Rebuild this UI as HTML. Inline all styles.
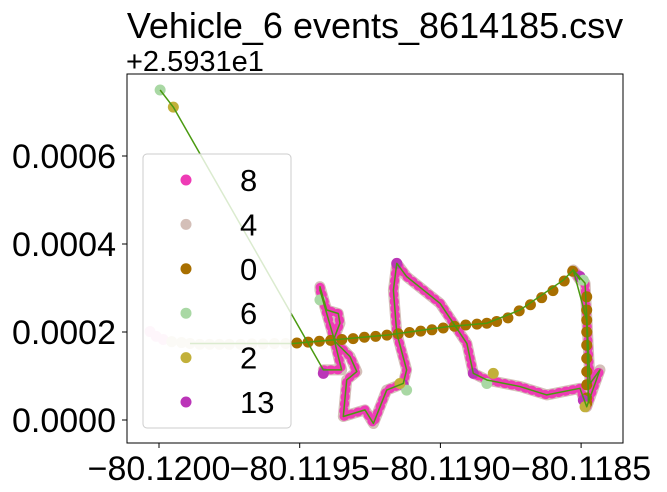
<!DOCTYPE html>
<html><head><meta charset="utf-8"><style>
body{margin:0;background:#fff;}
svg{display:block;font-family:"Liberation Sans","DejaVu Sans",sans-serif;}
</style></head><body>
<svg id="chart" width="667" height="492" viewBox="0 0 667 492">
<text x="375" y="38" font-size="36" text-anchor="middle">Vehicle_6 events_8614185.csv</text>
<text x="126" y="71" font-size="29">+2.5931e1</text>
<g id="plot"></g>
<rect x="127" y="74" width="496" height="369" fill="none" stroke="#000" stroke-width="1"/>
<g id="axes"></g>
<g id="legend"></g>
</svg>
<script>
// data in micro-degrees: lon offset from -80.1200, lat offset from 25.931
const trackLon=[4,51,584,649,620,572,572,596,637,643,620,679,703,667,655,732,762,809,868,880,845,833,845,880,999,1094,1117,1165,1283,1378,1496,1520,1567,1532,1514,1472,1496];
const trackLat=[750,711,114,114,189,295,303,250,242,220,182,144,110,91,8,23,-8,68,83,114,197,295,356,326,265,174,106,91,76,57,72,30,114,83,311,341,318];
const roadLon=[110,477,809,1023,1165,1283,1437,1472,1520,1526];
const roadLat=[174,174,193,212,220,250,318,341,227,38];
const fadeLon=[-32,-10,15,45,80,110,145,180,215,250,290,330,370,410,450];
const fadeLat=[201,190,183,178,176,174,172,172,172,172,172,173,173,174,174];
const brownLon=[490,530,570,610,650,690,730,770,810,850,890,930,970,1010,1050,1090,1130,1165,1200,1240,1280,1320,1360,1400,1440,1470,1520,1520,1520,1520,1520,1520,1520,1520,1520,1520];
const brownLat=[175,177,179,181,183,185,188,190,193,196,199,202,205,209,213,216,218,220,224,232,248,262,278,294,316,338,280,250,227,200,170,140,110,80,50,38];
const purpleLon=[584,845,868,1117,1496,1508];
const purpleLat=[106,356,80,106,326,45];
const greenLon=[4,572,880,1165,1508];
const greenLat=[750,273,68,83,318];
const oliveLon=[51,856,1188,1514];
const oliveLat=[711,83,106,30];
const xTicks=[0,500,1000,1500];
const xTickLabels=["\u221280.1200","\u221280.1195","\u221280.1190","\u221280.1185"];
const yTicks=[0,200,400,600];
const yTickLabels=["0.0000","0.0002","0.0004","0.0006"];
const legendLabels=["8","4","0","6","2","13"];
const legendColors=["#ee3bb5","#d4bfb8","#a86f00","#a9d8a4","#c2b03a","#bb35b8"];

const NS="http://www.w3.org/2000/svg";
function X(v){return 159+v*140.7/500;}
function Y(v){return 420-v*88/200;}
function mk(tag,attrs,parent){const e=document.createElementNS(NS,tag);for(const k in attrs)e.setAttribute(k,attrs[k]);parent.appendChild(e);return e;}
const plot=document.getElementById('plot');
function pts(lo,la,from){return lo.slice(from).map((v,i)=>X(v)+','+Y(la[i+from])).join(' ');}
let p=mk('polyline',{points:pts(trackLon,trackLat,2),fill:'none',stroke:'#d4bfb8',"stroke-width":11,"stroke-linejoin":'round',"stroke-linecap":'round'},plot);


p=mk('polyline',{points:pts(trackLon,trackLat,2),fill:'none',stroke:'#ee3bb5',"stroke-width":9,"stroke-dasharray":'1 6',"stroke-linejoin":'round',"stroke-linecap":'round'},plot);


fadeLon.forEach((v,i)=>{const c=mk('circle',{cx:X(v),cy:Y(fadeLat[i]),r:5.5,fill:i<3?'#f9d3ea':'#ece3cf'},plot);

});
brownLon.forEach((v,i)=>{const c=mk('circle',{cx:X(v),cy:Y(brownLat[i]),r:5.5,fill:'#a86f00'},plot);

});
[[purpleLon,purpleLat,'#bb35b8','point-class-13'],[greenLon,greenLat,'#a9d8a4','point-class-6'],[oliveLon,oliveLat,'#c2b03a','point-class-2']].forEach(s=>{
s[0].forEach((v,i)=>{const c=mk('circle',{cx:X(v),cy:Y(s[1][i]),r:5.5,fill:s[2]},plot);

});});
p=mk('polyline',{points:pts(roadLon,roadLat,0),fill:'none',stroke:'#4a9a10',"stroke-width":1.5},plot);


p=mk('polyline',{points:pts(trackLon,trackLat,0),fill:'none',stroke:'#4a9a10',"stroke-width":1.5,"stroke-linejoin":'round'},plot);



const axes=document.getElementById('axes');
xTicks.forEach((v,i)=>{mk('line',{x1:X(v),x2:X(v),y1:443,y2:448,stroke:'#000'},axes);
const t=mk('text',{x:X(v),y:480,"font-size":34,"text-anchor":'middle'},axes);t.textContent=xTickLabels[i];

});
yTicks.forEach((v,i)=>{mk('line',{x1:122,x2:127,y1:Y(v),y2:Y(v),stroke:'#000'},axes);
const t=mk('text',{x:116,y:Y(v)+12,"font-size":34,"text-anchor":'end'},axes);t.textContent=yTickLabels[i];

});

const lg=document.getElementById('legend');
const box=mk('rect',{x:143,y:154,width:148,height:274,rx:4,fill:'rgba(255,255,255,0.8)',stroke:'#ccc'},lg);


legendLabels.forEach((l,i)=>{const y=180+i*44.4;
const g=mk('g',{},lg);


mk('circle',{cx:186,cy:y,r:5.5,fill:legendColors[i]},g);
const t=mk('text',{x:240,y:y+11,"font-size":31},g);t.textContent=l;});
</script>
</body></html>
